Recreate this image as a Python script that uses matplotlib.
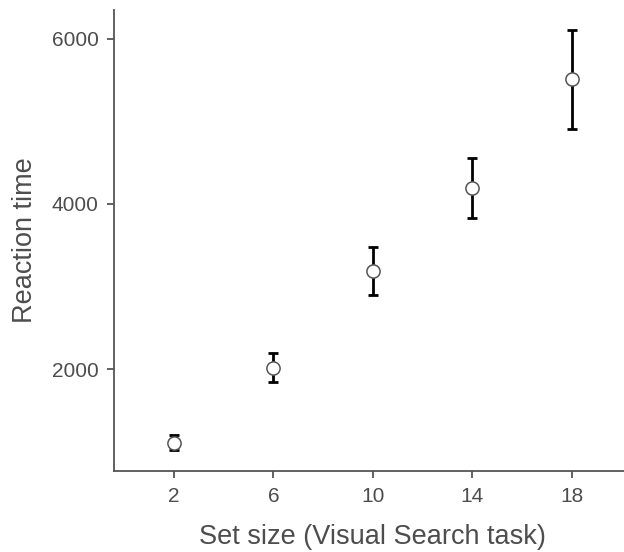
import matplotlib.pyplot as plt
import matplotlib

matplotlib.rcParams['font.family'] = ['Liberation Sans', 'DejaVu Sans']

# data
set_sizes = ['2', '6', '10', '14', '18']
mean_rt = [1110, 2015, 3185, 4195, 5510]
err_rt = [88, 175, 288, 362, 597]

fig = plt.figure(figsize=(6.24, 5.52), dpi=100)
ax = fig.add_axes([0.183, 0.147, 0.829, 0.835])

x = range(len(set_sizes))
ax.errorbar(x, mean_rt, yerr=err_rt, fmt='none', ecolor='black',
            elinewidth=2.0, capsize=3.8, capthick=2.0, zorder=2)
ax.plot(x, mean_rt, 'o', markersize=9.5, markerfacecolor='white',
        markeredgecolor='#555555', markeredgewidth=1.1, zorder=3)

ax.set_xlim(-0.6, 4.6)
ax.set_ylim(768, 6350)
ax.set_xticks(list(x))
ax.set_xticklabels(set_sizes)
ax.set_yticks([2000, 4000, 6000])

for side in ['top', 'right']:
    ax.spines[side].set_visible(False)
for side in ['left', 'bottom']:
    ax.spines[side].set_color('#555555')
    ax.spines[side].set_linewidth(1.3)

ax.tick_params(axis='both', colors='#555555', width=1.3, length=4.8,
               labelsize=15, labelcolor='#4d4d4d', pad=6.5)

ax.set_xlabel('Set size (Visual Search task)', fontsize=19.5, color='#4d4d4d', labelpad=13)
ax.set_ylabel('Reaction time', fontsize=19.5, color='#4d4d4d', labelpad=10)

plt.savefig('out.png', dpi=100)
